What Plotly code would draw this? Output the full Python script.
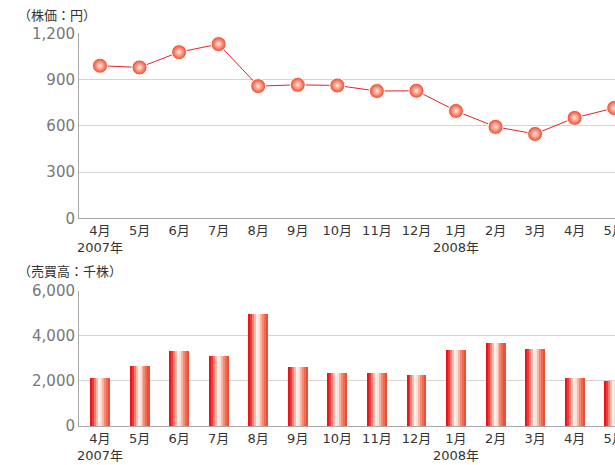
import plotly.graph_objects as go
from plotly.subplots import make_subplots

months = ["4月", "5月", "6月", "7月", "8月", "9月", "10月", "11月", "12月",
          "1月", "2月", "3月", "4月", "5月"]
tick_labels = ["4月<br>2007年", "5月", "6月", "7月", "8月", "9月", "10月", "11月", "12月",
               "1月<br>2008年", "2月", "3月", "4月", "5月"]
price = [990, 979, 1078, 1130, 858, 866, 862, 826, 828, 697, 594, 548, 652, 716]
volume = [2150, 2680, 3340, 3120, 4980, 2630, 2350, 2360, 2280, 3385, 3695, 3430, 2150, 2010]
y1_ticks = [0, 300, 600, 900, 1200]
y2_ticks = [0, 2000, 4000, 6000]

strip_colors = ["#e8161c", "#ee3a36", "#f57a70", "#fbb8ae", "#fff2ec",
                "#fde0d6", "#f9b4a2", "#f48a74", "#f06a52", "#ec4e36"]

NUMFONT = "'DejaVu Sans', 'Noto Sans CJK JP', sans-serif"
JPFONT = "'Noto Sans CJK JP', sans-serif"
x_idx = list(range(len(months)))

fig = make_subplots(rows=2, cols=1, vertical_spacing=0.1)

fig.add_trace(go.Scatter(
    x=x_idx, y=price, mode="lines+markers",
    line=dict(color="#e8202a", width=1),
    marker=dict(size=15, color="#ee4428",
                gradient=dict(type="radial", color="#ffe6dc"),
                line=dict(color="#ffffff", width=1)),
    showlegend=False, hoverinfo="skip"), row=1, col=1)

bw = 0.5
n = len(strip_colors)
for k, c in enumerate(strip_colors):
    fig.add_trace(go.Bar(
        x=x_idx, y=volume, width=bw / n + 0.004, offset=-bw / 2 + k * bw / n,
        marker=dict(color=c, line=dict(width=0)),
        showlegend=False, hoverinfo="skip"), row=2, col=1)

xcommon = dict(tickmode="array", tickvals=x_idx, ticktext=tick_labels,
               range=[-0.53, 13.02], showgrid=False, zeroline=False,
               showline=True, linecolor="#a8a8a8", linewidth=1, ticks="",
               tickangle=0, ticklabeloverflow="allow",
               tickfont=dict(family=NUMFONT, size=13, color="#333333"),
               automargin=False)
fig.update_xaxes(**xcommon, row=1, col=1)
fig.update_xaxes(**xcommon, row=2, col=1)

ycommon = dict(showgrid=True, gridcolor="#d4d4d4", gridwidth=1, zeroline=False,
               showline=True, linecolor="#a8a8a8", linewidth=1, ticks="",
               tickformat=",", tickfont=dict(family=NUMFONT, size=15, color="#777777"),
               automargin=False)
fig.update_yaxes(**ycommon, range=[0, 1200], tickvals=y1_ticks,
                 domain=[0.4871, 0.9218], row=1, col=1)
fig.update_yaxes(**ycommon, range=[0, 6000], tickvals=y2_ticks,
                 domain=[0.0, 0.3176], row=2, col=1)

fig.add_annotation(text="（株価：円）", xref="paper", yref="paper", x=-0.118, y=0.966,
                   xanchor="left", yanchor="middle", showarrow=False,
                   font=dict(family=JPFONT, size=13, color="#333333"))
fig.add_annotation(text="（売買高：千株）", xref="paper", yref="paper", x=-0.118, y=0.364,
                   xanchor="left", yanchor="middle", showarrow=False,
                   font=dict(family=JPFONT, size=13, color="#333333"))

fig.update_layout(
    width=615, height=465, barmode="overlay", bargap=0,
    margin=dict(l=79, r=0, t=0, b=39),
    paper_bgcolor="white", plot_bgcolor="white",
    font=dict(family=NUMFONT),
)

fig.write_html("out.html", config={"displayModeBar": False},
               post_script="document.body.style.margin='0';document.body.style.padding='0';document.body.style.overflow='hidden';")
